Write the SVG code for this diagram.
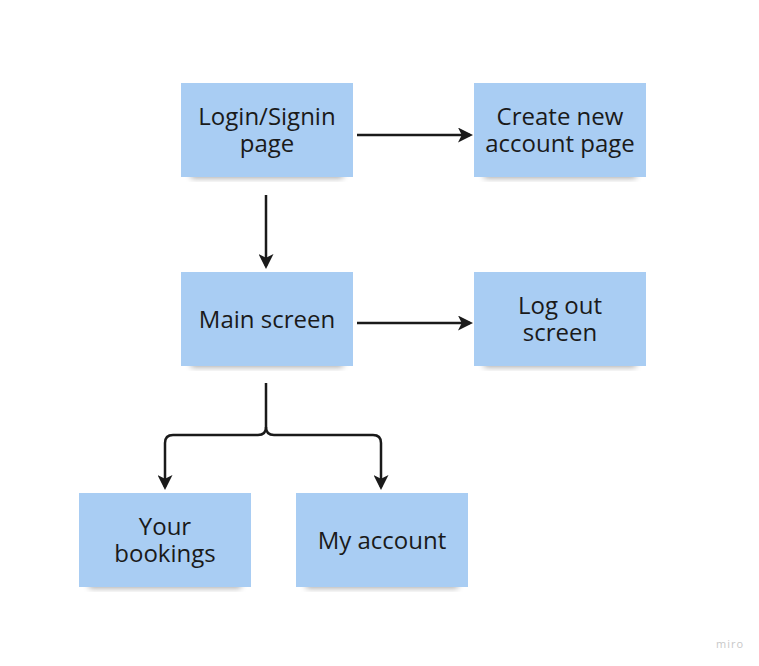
<svg xmlns="http://www.w3.org/2000/svg" width="759" height="666" viewBox="0 0 759 666">
<defs>
<filter id="sh" x="-20%" y="-20%" width="140%" height="160%">
<feGaussianBlur stdDeviation="3"/>
</filter>
<marker id="ah" viewBox="0 0 10 10" refX="8" refY="5" markerWidth="6" markerHeight="6" orient="auto" markerUnits="strokeWidth">
<path d="M0,0 L10,5 L0,10 L2.5,5 Z" fill="#1a1a1a"/>
</marker>
</defs>
<style>
.note{fill:#a9cdf3}
.shadow{fill:#000;opacity:0.35}
.t{font-family:"Open Sans","Noto Sans",sans-serif;font-size:24px;fill:#1a1a1a;text-anchor:middle}
.c{fill:none;stroke:#1a1a1a;stroke-width:2.5;marker-end:url(#ah)}
</style>
<rect width="759" height="666" fill="#ffffff"/>
<g id="connectors">
<path class="c" d="M357,135 H470"/>
<path class="c" d="M266,195 V266"/>
<path class="c" d="M357,323 H470"/>
<path class="c" d="M266,383 V427 Q266,435 258,435 H173 Q165,435 165,443 V487"/>
<path class="c" d="M266,427 Q266,435 274,435 H373 Q381,435 381,443 V487"/>
</g>
<g id="n1">
<rect class="shadow" x="191" y="168" width="152" height="10" filter="url(#sh)"/>
<rect class="note" x="181" y="83" width="172" height="94"/>
<text class="t" x="267" y="125">Login/Signin<tspan x="267" dy="27">page</tspan></text>
</g>
<g id="n2">
<rect class="shadow" x="484" y="168" width="152" height="10" filter="url(#sh)"/>
<rect class="note" x="474" y="83" width="172" height="94"/>
<text class="t" x="560" y="125">Create new<tspan x="560" dy="27">account page</tspan></text>
</g>
<g id="n3">
<rect class="shadow" x="191" y="357" width="152" height="10" filter="url(#sh)"/>
<rect class="note" x="181" y="272" width="172" height="94"/>
<text class="t" x="267" y="328">Main screen</text>
</g>
<g id="n4">
<rect class="shadow" x="484" y="357" width="152" height="10" filter="url(#sh)"/>
<rect class="note" x="474" y="272" width="172" height="94"/>
<text class="t" x="560" y="314">Log out<tspan x="560" dy="27">screen</tspan></text>
</g>
<g id="n5">
<rect class="shadow" x="89" y="578" width="152" height="10" filter="url(#sh)"/>
<rect class="note" x="79" y="493" width="172" height="94"/>
<text class="t" x="165" y="535">Your<tspan x="165" dy="27">bookings</tspan></text>
</g>
<g id="n6">
<rect class="shadow" x="306" y="578" width="152" height="10" filter="url(#sh)"/>
<rect class="note" x="296" y="493" width="172" height="94"/>
<text class="t" x="382" y="549">My account</text>
</g>
<text x="730" y="648" font-family="'Open Sans',sans-serif" font-size="11" fill="#c8c8c8" text-anchor="middle" letter-spacing="1">miro</text>
</svg>
